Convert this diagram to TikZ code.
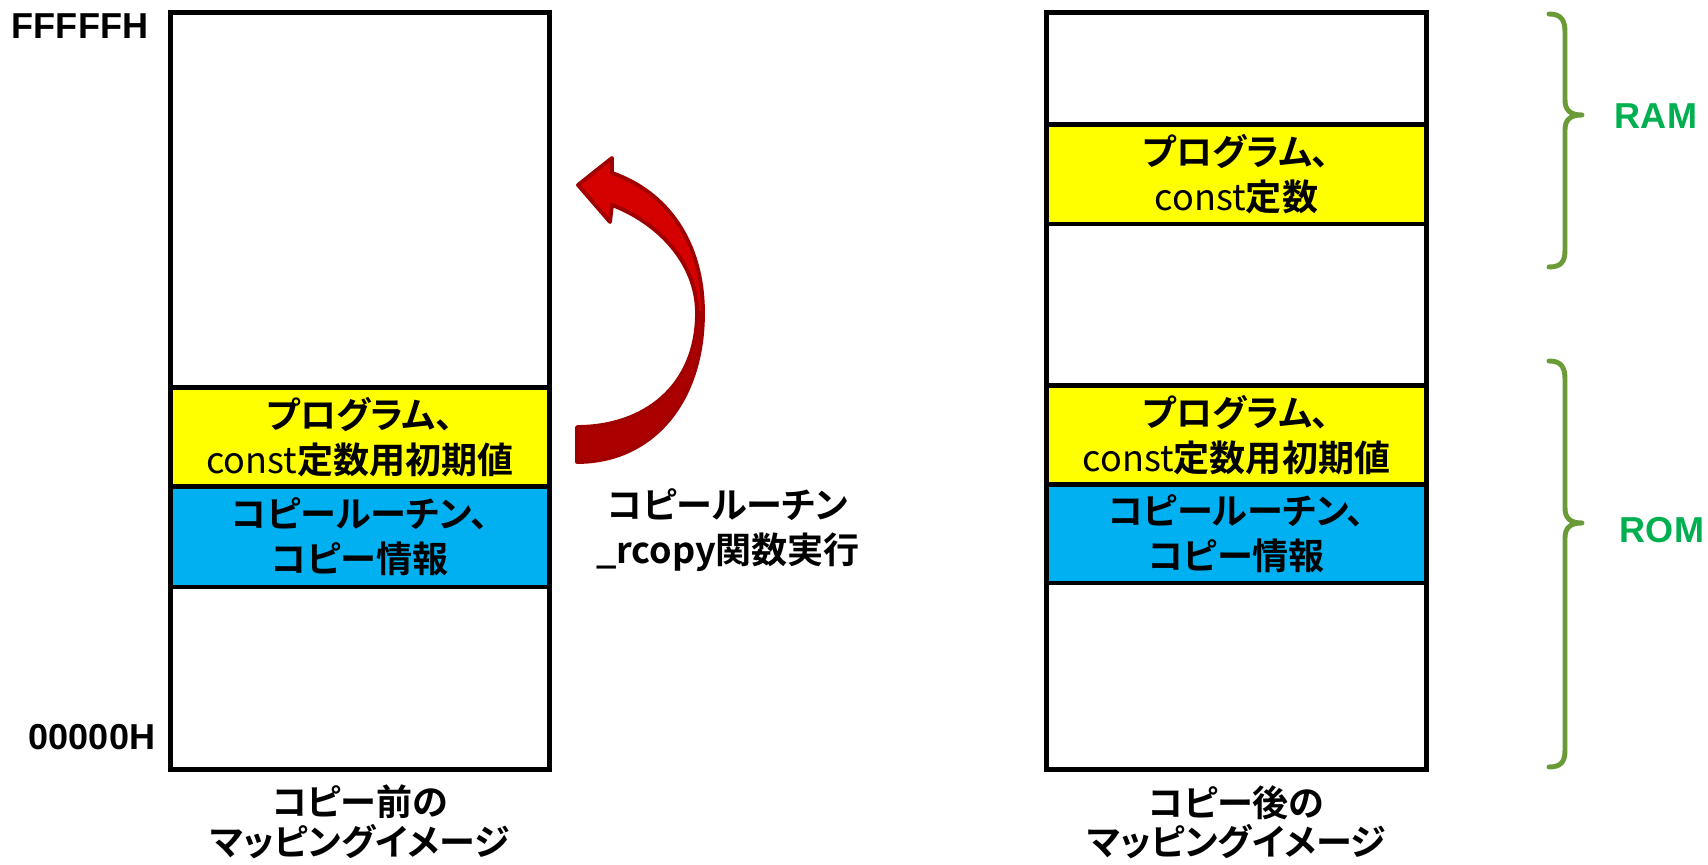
\documentclass[tikz,border=0pt]{standalone}
\usepackage{fontspec}
\setmainfont{Liberation Sans}
\newfontfamily\jp{Noto Sans CJK JP}[BoldFont={* Bold}, RawFeature={+palt}]
\newfontfamily\jpn{Noto Sans CJK JP}
\definecolor{bandyellow}{HTML}{FFFF00}
\definecolor{bandblue}{HTML}{00B0F0}
\definecolor{memgreen}{HTML}{00B050}
\definecolor{bracegreen}{HTML}{6B9B37}
\definecolor{ltred}{HTML}{D50000}
\definecolor{dkred}{HTML}{AA0000}
\definecolor{redline}{HTML}{A00000}
\tikzset{
  memframe/.style={draw=black, line width=1.4pt, inner sep=0pt, outer sep=0pt, fill=white},
  band/.style={draw=black, line width=1.4pt, inner sep=0pt, outer sep=0pt},
  lbl/.style={align=center, inner sep=0pt, font=\jp\bfseries\fontsize{10.25}{12.8}\selectfont},
  caption/.style={align=center, inner sep=0pt, font=\jp\bfseries\fontsize{10.25}{11.2}\selectfont},
  addr/.style={inner sep=0pt, font=\bfseries\fontsize{10.25}{12}\selectfont},
  memname/.style={inner sep=0pt, text=memgreen, font=\bfseries\fontsize{10.25}{12}\selectfont},
  bracestyle/.style={draw=bracegreen, line width=1.4pt, line cap=round, line join=round},
  arrowpart/.style={draw=redline, line width=1.1pt, line join=round}
}
\begin{document}
\begin{tikzpicture}[x=0.01cm, y=-0.01cm]
\useasboundingbox (0,0) rectangle (1708,865);

% left memory map (before copy)
\node[memframe, minimum width=3.78cm, minimum height=7.56cm] (before) at (360,391) {};
\node[band, fill=bandyellow, minimum width=3.78cm, minimum height=0.99cm] (lprog) at (360,437.5) {};
\node[band, fill=bandblue, minimum width=3.78cm, minimum height=1.00cm] (lcopy) at (360,537) {};
\node[lbl] (lprogt) at (lprog) {プログラム、\\{\jpn\mdseries const}定数用初期値};
\node[lbl] (lcopyt) at (lcopy) {コピールーチン、\\コピー情報};

% right memory map (after copy)
\node[memframe, minimum width=3.79cm, minimum height=7.56cm] (after) at (1236.5,391) {};
\node[band, fill=bandyellow, minimum width=3.79cm, minimum height=0.99cm] (rram) at (1236.5,174.5) {};
\node[band, fill=bandyellow, minimum width=3.79cm, minimum height=0.99cm] (rprog) at (1236.5,435.5) {};
\node[band, fill=bandblue, minimum width=3.79cm, minimum height=0.98cm] (rcopy) at (1236.5,534) {};
\node[lbl] (rramt) at (rram) {プログラム、\\{\jpn\mdseries const}定数};
\node[lbl] (rprogt) at (rprog) {プログラム、\\{\jpn\mdseries const}定数用初期値};
\node[lbl] (rcopyt) at (rcopy) {コピールーチン、\\コピー情報};

% addresses
\node[addr] (ftop) at (80,26) {FFFFFH};
\node[addr] (fbot) at (92,737) {00000H};

% captions
\node[caption] (capl) at (360,822) {コピー前の\\マッピングイメージ};
\node[caption] (capr) at (1236.5,822) {コピー後の\\マッピングイメージ};
\node[lbl] (mid) at (728,530) {コピールーチン\\\_rcopy関数実行};

% curved arrow
\filldraw[arrowpart, fill=dkred]
  (577,462) .. controls (652,462) and (703,402) .. (703,313)
  -- (697,313) .. controls (697,386) and (645,427) .. (577,427) -- cycle;
\filldraw[arrowpart, fill=ltred]
  (703,313) .. controls (703,242) and (667,192) .. (612,173)
  -- (612,158) -- (578,185) -- (610,222) -- (612,205)
  .. controls (657,222) and (697,262) .. (697,313) -- cycle;

% braces
\draw[bracestyle] (1549,14) .. controls (1561,14) and (1565,20) .. (1565,32)
  -- (1565,100) .. controls (1565,110) and (1570,115) .. (1582,115)
  .. controls (1570,115) and (1565,120) .. (1565,130)
  -- (1565,250) .. controls (1565,262) and (1561,267) .. (1549,267);
\draw[bracestyle] (1549,361) .. controls (1561,361) and (1565,367) .. (1565,379)
  -- (1565,508) .. controls (1565,518) and (1570,523) .. (1582,523)
  .. controls (1570,523) and (1565,528) .. (1565,538)
  -- (1565,750) .. controls (1565,762) and (1561,767) .. (1549,767);
\node[memname] (ram) at (1656,116) {RAM};
\node[memname] (rom) at (1662,530) {ROM};
\end{tikzpicture}
\end{document}
